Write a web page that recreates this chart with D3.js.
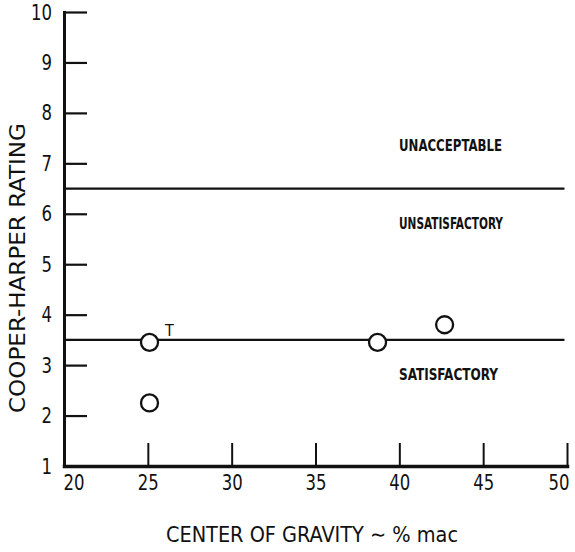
<!DOCTYPE html>
<html>
<head>
<meta charset="utf-8">
<script src="https://cdn.jsdelivr.net/npm/d3@7/dist/d3.min.js"></script>
<style>
  html, body { margin: 0; padding: 0; background: #fff; }
  svg { display: block; }
  text { font-family: 'DejaVu Sans Condensed', 'Liberation Sans Narrow', 'DejaVu Sans', sans-serif; font-stretch: condensed; fill: #111; }
</style>
</head>
<body>
<svg id="chart" width="575" height="552"></svg>
<script>
// Flight-test ratings versus centre of gravity position
const cgPercentMac = [25.1, 25.1, 38.7, 42.7];
const cooperHarper = [3.45, 2.25, 3.45, 3.8];
const pointNotes = ["T", "", "", ""];

// Rating boundaries separating the handling-quality regions
const boundaries = [6.5, 3.5];
const regionNames = ["UNACCEPTABLE", "UNSATISFACTORY", "SATISFACTORY"];
const regionLevels = [7.25, 5.7, 2.7];

const xTicks = [20, 25, 30, 35, 40, 45, 50];
const yTicks = [1, 2, 3, 4, 5, 6, 7, 8, 9, 10];

const svg = d3.select("#chart");
const ink = "#111";
const digitWidth = 10.5;

const x = d3.scaleLinear().domain([20, 50]).range([64, 567]);
const y = d3.scaleLinear().domain([1, 10]).range([466, 12]);

// Region boundary lines
svg.selectAll("line.boundary")
  .data(boundaries)
  .join("line")
  .attr("class", "boundary")
  .attr("x1", x(20)).attr("x2", x(49.85))
  .attr("y1", d => y(d)).attr("y2", d => y(d))
  .attr("stroke", ink).attr("stroke-width", 2.2);

// Region labels
const regionWidths = [103, 104, 99];
svg.selectAll("text.region")
  .data(regionNames)
  .join("text")
  .attr("class", "region")
  .attr("x", 399)
  .attr("y", (d, i) => y(regionLevels[i]))
  .attr("font-size", 15)
  .attr("font-weight", "bold")
  .attr("textLength", (d, i) => regionWidths[i])
  .attr("lengthAdjust", "spacingAndGlyphs")
  .text(d => d);

// Y axis
const yAxis = d3.axisLeft(y).tickValues(yTicks).tickFormat(d3.format("d"))
  .tickSize(-23).tickSizeOuter(0).tickPadding(12);
const gy = svg.append("g").attr("transform", `translate(${x(20)},0)`).call(yAxis);
gy.select(".domain").attr("stroke", ink).attr("stroke-width", 3);
gy.selectAll(".tick line").attr("stroke", ink).attr("stroke-width", 2.2);
gy.selectAll(".tick text").attr("font-size", 22).attr("fill", ink)
  .attr("font-family", null)
  .attr("textLength", d => String(d).length * digitWidth)
  .attr("lengthAdjust", "spacingAndGlyphs");

// X axis
const xAxis = d3.axisBottom(x).tickValues(xTicks).tickFormat(d3.format("d"))
  .tickSize(-23).tickSizeOuter(0).tickPadding(8);
const gx = svg.append("g").attr("transform", `translate(0,${y(1)})`).call(xAxis);
gx.select(".domain").attr("stroke", ink).attr("stroke-width", 3.5);
gx.selectAll(".tick line").attr("stroke", ink).attr("stroke-width", 2);
gx.selectAll(".tick line").filter(d => d === 20).remove();
gx.selectAll(".tick text").attr("font-size", 22).attr("fill", ink)
  .attr("font-family", null)
  .attr("textLength", d => String(d).length * digitWidth)
  .attr("lengthAdjust", "spacingAndGlyphs");
gx.selectAll(".tick text").filter(d => d === 20)
  .attr("text-anchor", "start").attr("x", -1);
gx.selectAll(".tick text").filter(d => d === 50)
  .attr("text-anchor", "end").attr("x", 2);
svg.selectAll(".domain").attr("stroke-linecap", "square");

// Data points
svg.selectAll("circle.pt")
  .data(cgPercentMac)
  .join("circle")
  .attr("class", "pt")
  .attr("cx", d => x(d))
  .attr("cy", (d, i) => y(cooperHarper[i]))
  .attr("r", 8.5)
  .attr("fill", "#fff")
  .attr("stroke", ink)
  .attr("stroke-width", 2.3);

svg.selectAll("text.note")
  .data(pointNotes)
  .join("text")
  .attr("class", "note")
  .attr("x", (d, i) => x(cgPercentMac[i]) + 20)
  .attr("y", (d, i) => y(cooperHarper[i]) - 6)
  .attr("text-anchor", "middle")
  .attr("font-size", 16)
  .text(d => d);

// Axis titles
svg.append("text")
  .attr("transform", "translate(25,268) rotate(-90)")
  .attr("text-anchor", "middle")
  .attr("font-size", 22)
  .attr("textLength", 290)
  .attr("lengthAdjust", "spacingAndGlyphs")
  .text("COOPER-HARPER RATING");

svg.append("text")
  .attr("x", 312).attr("y", 542)
  .attr("text-anchor", "middle")
  .attr("font-size", 22)
  .attr("textLength", 292)
  .attr("lengthAdjust", "spacingAndGlyphs")
  .text("CENTER OF GRAVITY \u223C % mac");
</script>
</body>
</html>
